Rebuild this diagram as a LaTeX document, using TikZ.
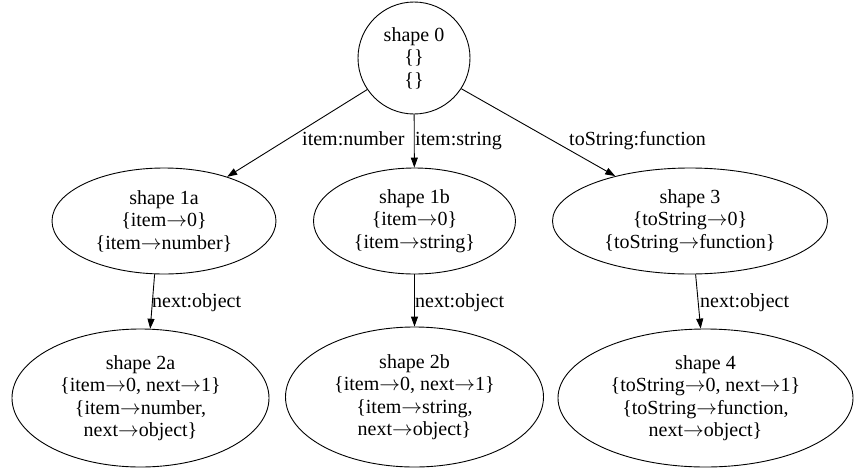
\documentclass[tikz,border=0pt]{standalone}
\usepackage{fontspec}
\setmainfont{Liberation Serif}
\usetikzlibrary{shapes.geometric,arrows.meta}
% property-to-slot arrow inside the shape labels
\newcommand{\slotarrow}{\ensuremath{\rightarrow}}
\begin{document}
\begin{tikzpicture}[x=1pt,y=-1pt,
  every node/.style={font=\fontsize{20}{22.5}\selectfont},
  shapenode/.style={draw,ellipse,inner sep=0pt,align=center,line width=0.9pt},
  rootnode/.style={draw,circle,inner sep=0pt,align=center,line width=0.9pt},
  trans/.style={draw,line width=0.9pt,-{Triangle[length=10pt,width=7pt]}},
  translabel/.style={anchor=base west,inner sep=0pt}]
\useasboundingbox (0,0) rectangle (854,469);

% root shape
\node[rootnode,minimum size=112pt] (s0) at (414,58) {shape 0\\\{\}\\\{\}};

% first level
\node[shapenode,minimum width=224pt,minimum height=106pt] (s1a) at (164,221)
  {shape 1a\\\{item\slotarrow0\}\\\{item\slotarrow number\}};
\node[shapenode,minimum width=202pt,minimum height=106pt] (s1b) at (414.5,221)
  {shape 1b\\\{item\slotarrow0\}\\\{item\slotarrow string\}};
\node[shapenode,minimum width=275pt,minimum height=106pt] (s3) at (690,221)
  {shape 3\\\{toString\slotarrow0\}\\\{toString\slotarrow function\}};

% second level
\node[shapenode,minimum width=257pt,minimum height=138pt] (s2a) at (140.5,398)
  {shape 2a\\\{item\slotarrow0, next\slotarrow1\}\\\{item\slotarrow number,\\next\slotarrow object\}};
\node[shapenode,minimum width=258pt,minimum height=140pt] (s2b) at (414.5,397)
  {shape 2b\\\{item\slotarrow0, next\slotarrow1\}\\\{item\slotarrow string,\\next\slotarrow object\}};
\node[shapenode,minimum width=295pt,minimum height=138pt] (s4) at (705.5,398)
  {shape 4\\\{toString\slotarrow0, next\slotarrow1\}\\\{toString\slotarrow function,\\next\slotarrow object\}};

% transitions
\draw[trans] (s0.214) -- (s1a.35);
\draw[trans] (s0) -- (s1b);
\draw[trans] (s0.327) -- (s3.149);
\draw[trans] (s1a.260.5) -- (s2a.82);
\draw[trans] (s1b) -- (s2b);
\draw[trans] (s3.276) -- (s4.94);

% transition labels
\node[translabel] (l1a) at (302,145) {item:number};
\node[translabel] (l1b) at (415,145) {item:string};
\node[translabel] (l3) at (569,145) {toString:function};
\node[translabel] (l2a) at (152,307) {next:object};
\node[translabel] (l2b) at (415,307) {next:object};
\node[translabel] (l4) at (700,307) {next:object};
\end{tikzpicture}
\end{document}
